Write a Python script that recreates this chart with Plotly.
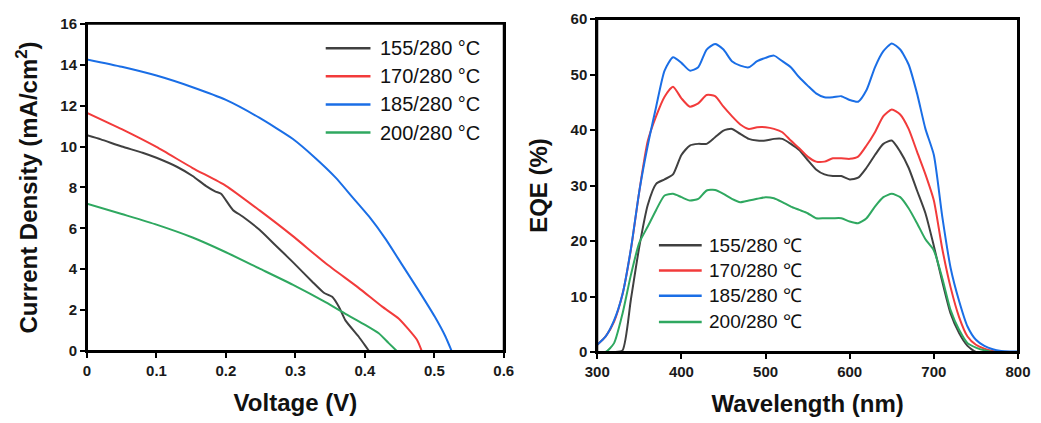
import plotly.graph_objects as go

# ---------------- J-V data ----------------
v_155 = [0, 0.02, 0.05, 0.08, 0.1, 0.13, 0.152, 0.171, 0.185, 0.193, 0.21, 0.224, 0.248, 0.272, 0.296, 0.324, 0.341, 0.353, 0.363, 0.372, 0.391, 0.401, 0.406]
j_155 = [10.55, 10.35, 10.0, 9.7, 9.45, 9.0, 8.56, 8.08, 7.8, 7.69, 6.9, 6.58, 5.94, 5.15, 4.36, 3.4, 2.85, 2.65, 2.14, 1.5, 0.71, 0.24, 0]
v_170 = [0, 0.05, 0.1, 0.152, 0.2, 0.248, 0.296, 0.344, 0.391, 0.425, 0.449, 0.475, 0.482]
j_170 = [11.65, 10.85, 9.98, 8.95, 8.08, 6.89, 5.63, 4.28, 3.09, 2.17, 1.58, 0.55, 0]
v_185 = [0, 0.05, 0.1, 0.152, 0.2, 0.248, 0.296, 0.329, 0.358, 0.382, 0.406, 0.43, 0.454, 0.478, 0.501, 0.516, 0.525]
j_185 = [14.26, 13.9, 13.47, 12.9, 12.28, 11.41, 10.38, 9.43, 8.48, 7.53, 6.58, 5.47, 4.2, 2.93, 1.66, 0.71, 0]
v_200 = [0, 0.05, 0.1, 0.152, 0.2, 0.248, 0.296, 0.344, 0.372, 0.401, 0.42, 0.434, 0.446]
j_200 = [7.21, 6.7, 6.18, 5.55, 4.83, 4.04, 3.25, 2.38, 1.82, 1.27, 0.87, 0.4, 0]

# ---------------- EQE data ----------------
wavelength = [300, 310, 320, 330, 340, 350, 360, 370, 380, 390, 400, 410, 420, 430, 440, 450, 460, 470, 480, 490,
              500, 510, 520, 530, 540, 550, 560, 570, 580, 590, 600, 610, 620, 630, 640, 650, 660, 670, 680, 690,
              700, 710, 720, 730, 740, 750, 760, 770, 780, 790, 800]
eqe_155 = [0, 0, 0, 0.3, 9.5, 19.0, 26.5, 30.3, 31.1, 32.0, 35.5, 37.2, 37.5, 37.5, 38.7, 39.9, 40.2, 39.3, 38.4, 38.1,
           38.1, 38.4, 38.4, 37.5, 36.4, 34.6, 32.9, 32.0, 31.7, 31.7, 31.1, 31.4, 33.2, 35.5, 37.5, 38.1, 36.1, 33.2, 29.1, 25.0,
           19.1, 12.7, 6.9, 3.4, 1.1, 0, 0, 0, 0, 0, 0]
eqe_170 = [1.3, 2.8, 5.5, 10.4, 18.5, 29.0, 38.0, 42.5, 46.0, 47.8, 45.7, 44.2, 44.8, 46.3, 46.1, 44.2, 42.5, 41.0, 40.2, 40.5,
           40.5, 40.2, 39.6, 38.1, 36.7, 35.2, 34.3, 34.3, 34.9, 34.9, 34.8, 35.2, 37.2, 39.6, 42.5, 43.7, 42.8, 40.2, 36.1, 32.0,
           27.3, 18.6, 11.6, 6.3, 2.8, 1.3, 0.6, 0.2, 0, 0, 0]
eqe_185 = [1.3, 2.8, 5.7, 10.4, 18.6, 29.0, 37.2, 44.2, 50.7, 53.1, 52.1, 50.7, 51.3, 54.5, 55.5, 54.5, 52.4, 51.6, 51.3, 52.4,
           53.0, 53.4, 52.4, 51.3, 49.5, 48.0, 46.6, 45.9, 45.9, 46.1, 45.4, 45.1, 47.2, 51.3, 54.2, 55.6, 54.5, 51.8, 46.6, 40.2,
           35.5, 24.4, 15.1, 9.2, 4.6, 2.2, 1.1, 0.5, 0.2, 0.1, 0.1]
eqe_200 = [0, 0, 1.6, 6.9, 13.9, 19.7, 22.6, 25.6, 28.2, 28.5, 27.9, 27.3, 27.6, 29.1, 29.2, 28.5, 27.6, 27.0, 27.3, 27.6,
           27.9, 27.7, 27.0, 26.2, 25.6, 25.0, 24.1, 24.1, 24.1, 24.1, 23.5, 23.2, 24.1, 26.2, 27.9, 28.5, 27.9, 25.9, 23.2, 20.3,
           18.3, 13.3, 7.5, 4.0, 1.6, 0.8, 0.3, 0, 0, 0, 0]

names_jv = ["155/280 °C", "170/280 °C", "185/280 °C", "200/280 °C"]
names_eqe = ["155/280 ℃", "170/280 ℃", "185/280 ℃", "200/280 ℃"]
colors = ["#404040", "#f23b3b", "#1a6ee6", "#2fa860"]

FONT = "Arial, Liberation Sans, sans-serif"
W, H = 1041, 423
ML, MR, MT, MB = 87, 18, 10, 70
PW, PH = W - ML - MR, H - MT - MB


def px_x(p):
    return (p - ML) / PW


def px_y(p):
    return 1 - (p - MT) / PH


fig = go.Figure()
jv = [(v_155, j_155), (v_170, j_170), (v_185, j_185), (v_200, j_200)]
for i, (v, j) in enumerate(jv):
    fig.add_trace(go.Scatter(x=v, y=j, mode="lines", name=names_jv[i], showlegend=False,
                             line=dict(color=colors[i], width=2, shape="spline", smoothing=0.5),
                             xaxis="x", yaxis="y"))
eqes = [eqe_155, eqe_170, eqe_185, eqe_200]
for i, e in enumerate(eqes):
    fig.add_trace(go.Scatter(x=wavelength, y=e, mode="lines", name=names_eqe[i], showlegend=False,
                             line=dict(color=colors[i], width=2, shape="spline", smoothing=0.6),
                             xaxis="x2", yaxis="y2"))

tf = dict(family=FONT, size=15, color="#1a1a1a", weight="bold")


def ax(domain, rng, dtick, title, anchor):
    return dict(domain=domain, range=rng, dtick=dtick,
                showline=True, linecolor="black", linewidth=2, mirror=True,
                ticks="outside", ticklen=5, tickwidth=2, tickcolor="black",
                showgrid=False, zeroline=False, tickfont=tf,
                title=dict(text=title, standoff=16,
                           font=dict(family=FONT, size=24, color="#111", weight="bold")),
                anchor=anchor)


# legend entries (text + colour swatch), left and right panels
shapes = []
annotations = []
left_rows = [40, 69, 98, 127]
right_rows = [243, 269, 295, 322]
for i in range(4):
    shapes.append(dict(type="line", xref="paper", yref="paper",
                       x0=px_x(327), x1=px_x(372), y0=px_y(left_rows[i]), y1=px_y(left_rows[i]),
                       line=dict(color=colors[i], width=2.5)))
    annotations.append(dict(xref="paper", yref="paper", x=px_x(380), y=px_y(left_rows[i]),
                            xanchor="left", yanchor="middle", showarrow=False, text=names_jv[i],
                            font=dict(family=FONT, size=20, color="#111")))
    shapes.append(dict(type="line", xref="paper", yref="paper",
                       x0=px_x(662), x1=px_x(705), y0=px_y(right_rows[i]), y1=px_y(right_rows[i]),
                       line=dict(color=colors[i], width=2.5)))
    annotations.append(dict(xref="paper", yref="paper", x=px_x(710), y=px_y(right_rows[i]),
                            xanchor="left", yanchor="middle", showarrow=False, text=names_eqe[i],
                            font=dict(family=FONT, size=19, color="#111")))
# axis frames
for xr, yr in (("x domain", "y domain"), ("x2 domain", "y2 domain")):
    shapes.append(dict(type="rect", xref=xr, yref=yr, x0=0, x1=1, y0=0, y1=1,
                       line=dict(color="black", width=2), fillcolor="rgba(0,0,0,0)", layer="above"))

fig.update_layout(
    width=W, height=H,
    margin=dict(l=ML, r=MR, t=MT, b=MB),
    plot_bgcolor="white", paper_bgcolor="white",
    showlegend=False,
    xaxis=ax([0, (506 - ML) / PW], [0, 0.6], 0.1, "Voltage (V)", "y"),
    yaxis=ax([(H - MB - 352) / PH, (H - MB - 15) / PH], [0, 16], 2,
             "Current Density (mA/cm<sup>2</sup>)", "x"),
    xaxis2=ax([(600 - ML) / PW, 1], [300, 800], 100, "Wavelength (nm)", "y2"),
    yaxis2=ax([0, 1], [0, 60], 10, "EQE (%)", "x2"),
    shapes=shapes,
    annotations=annotations,
)

fig.write_html("out.html")
